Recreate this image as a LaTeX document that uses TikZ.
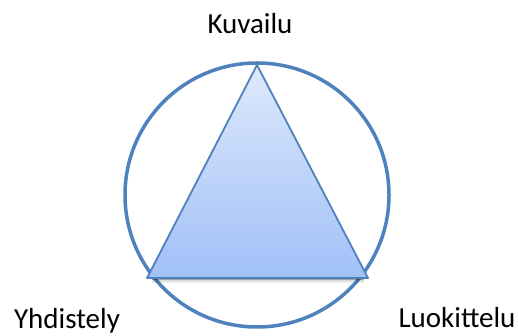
\documentclass[tikz,border=0pt]{standalone}
\usepackage{fontspec}
\setmainfont{Carlito}
\definecolor{edge}{RGB}{79,129,189}
\definecolor{topfill}{RGB}{222,233,252}
\definecolor{botfill}{RGB}{160,192,247}
\begin{document}
\begin{tikzpicture}[x=1pt,y=1pt,
  lbl/.style={anchor=base,font=\fontsize{29}{33}\selectfont,text=black,inner sep=0pt}]
\useasboundingbox (0,0) rectangle (518,336);
\coordinate (c) at (257,141);
\draw[edge,line width=3.5pt] (c) circle[radius=132];
% soft shadow under the base
\foreach \d/\o in {1/0.25,2.5/0.15,4/0.08}{
  \draw[black,opacity=\o,line width=2pt] (152,58-\d) -- (364,58-\d);
}
\coordinate (A) at (257,271);
\coordinate (B) at (147,58);
\coordinate (C) at (368,58);
\path[draw=edge,line width=1.8pt,line join=round,top color=topfill,bottom color=botfill]
  (A) -- (B) -- (C) -- cycle;
\node[lbl] (kuv) at (250,302) {Kuvailu};
\node[lbl] (yhd) at (67,7) {Yhdistely};
\node[lbl] (luo) at (457,8) {Luokittelu};
\end{tikzpicture}
\end{document}
